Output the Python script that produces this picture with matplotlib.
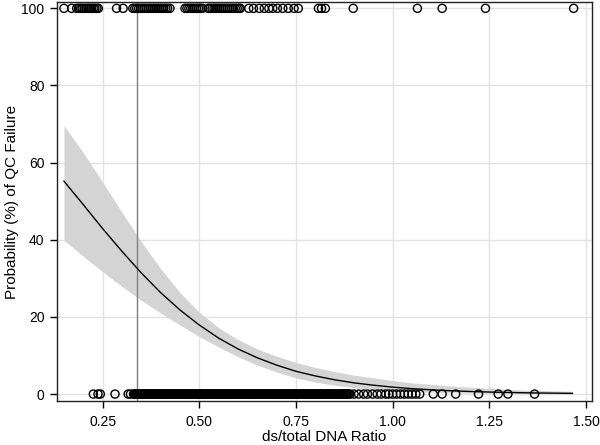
import numpy as np
import matplotlib.pyplot as plt

plt.rcParams['font.family'] = ['Liberation Sans', 'DejaVu Sans']

# fitted curve and 95% band (probability, %)
curve_x = [0.15, 0.20, 0.25, 0.30, 0.35, 0.40, 0.45, 0.50, 0.55, 0.60,
           0.65, 0.70, 0.75, 0.80, 0.85, 0.90, 0.95, 1.00, 1.05, 1.10,
           1.15, 1.20, 1.25, 1.30, 1.35, 1.40, 1.465]
curve_p = [55.2, 49.1, 42.9, 37.0, 31.4, 26.3, 21.8, 17.9, 14.5, 11.7,
           9.4, 7.5, 5.9, 4.7, 3.7, 2.9, 2.3, 1.8, 1.4, 1.1,
           0.86, 0.67, 0.52, 0.41, 0.32, 0.25, 0.18]
band_hi = [69.6, 62.6, 54.9, 47.1, 39.5, 32.5, 26.3, 21.2, 17.2, 14.1,
           11.7, 9.8, 8.2, 6.9, 5.8, 4.9, 4.2, 3.5, 2.9, 2.5,
           2.1, 1.8, 1.5, 1.2, 1.0, 0.88, 0.72]
band_lo = [39.9, 35.7, 31.7, 27.9, 24.3, 21.0, 17.9, 14.9, 12.2, 9.7,
           7.5, 5.7, 4.2, 3.1, 2.3, 1.7, 1.2, 0.9, 0.66, 0.48,
           0.35, 0.25, 0.19, 0.13, 0.10, 0.07, 0.05]

# observed samples: QC failures (plotted at 100) and passes (plotted at 0)
fail_x = [0.150, 0.170,
          0.183, 0.188, 0.193, 0.197, 0.202, 0.207, 0.212, 0.216, 0.221,
          0.226, 0.230, 0.235, 0.239,
          0.286, 0.303,
          0.328, 0.333, 0.338, 0.343, 0.348, 0.353, 0.358, 0.363, 0.368,
          0.373, 0.378, 0.383, 0.388, 0.393, 0.398, 0.403, 0.408, 0.413,
          0.418, 0.424,
          0.463, 0.468, 0.473, 0.478, 0.483, 0.488, 0.493, 0.498, 0.503,
          0.508, 0.523, 0.528, 0.533, 0.538, 0.543, 0.548, 0.553, 0.558,
          0.563, 0.568, 0.573, 0.578, 0.583, 0.588, 0.593, 0.598, 0.603,
          0.606,
          0.628, 0.640, 0.655, 0.668, 0.680, 0.690, 0.702, 0.716, 0.730,
          0.745, 0.756, 0.808, 0.816, 0.826, 0.898, 1.064, 1.128, 1.240,
          1.468]
pass_x = [0.226, 0.238, 0.244, 0.282, 0.316, 0.322,
          0.3300, 0.3325, 0.3350, 0.3375, 0.3400, 0.3425, 0.3450, 0.3475,
          0.3500, 0.3525, 0.3550, 0.3575, 0.3600, 0.3625, 0.3650, 0.3675,
          0.3700, 0.3725, 0.3750, 0.3775, 0.3800, 0.3825, 0.3850, 0.3875,
          0.3900, 0.3925, 0.3950, 0.3975, 0.4000, 0.4025, 0.4050, 0.4075,
          0.4100, 0.4125, 0.4150, 0.4175, 0.4200, 0.4225, 0.4250, 0.4275,
          0.4300, 0.4325, 0.4350, 0.4375, 0.4400, 0.4425, 0.4450, 0.4475,
          0.4500, 0.4525, 0.4550, 0.4575, 0.4600, 0.4625, 0.4650, 0.4675,
          0.4700, 0.4725, 0.4750, 0.4775, 0.4800, 0.4825, 0.4850, 0.4875,
          0.4900, 0.4925, 0.4950, 0.4975, 0.5000, 0.5025, 0.5050, 0.5075,
          0.5100, 0.5125, 0.5150, 0.5175, 0.5200, 0.5225, 0.5250, 0.5275,
          0.5300, 0.5325, 0.5350, 0.5375, 0.5400, 0.5425, 0.5450, 0.5475,
          0.5500, 0.5525, 0.5550, 0.5575, 0.5600, 0.5625, 0.5650, 0.5675,
          0.5700, 0.5725, 0.5750, 0.5775, 0.5800, 0.5825, 0.5850, 0.5875,
          0.5900, 0.5925, 0.5950, 0.5975, 0.6000, 0.6025, 0.6050, 0.6075,
          0.6100, 0.6125, 0.6150, 0.6175, 0.6200, 0.6225, 0.6250, 0.6275,
          0.6300, 0.6325, 0.6350, 0.6375, 0.6400, 0.6425, 0.6450, 0.6475,
          0.6500, 0.6525, 0.6550, 0.6575, 0.6600, 0.6625, 0.6650, 0.6675,
          0.6700, 0.6725, 0.6750, 0.6775, 0.6800, 0.6825, 0.6850, 0.6875,
          0.6900, 0.6925, 0.6950, 0.6975, 0.7000, 0.7025, 0.7050, 0.7075,
          0.7100, 0.7125, 0.7150, 0.7175, 0.7200, 0.7225, 0.7250, 0.7275,
          0.7300, 0.7325, 0.7350, 0.7375, 0.7400, 0.7425, 0.7450, 0.7475,
          0.7500, 0.7525, 0.7550, 0.7575, 0.7600, 0.7625, 0.7650, 0.7675,
          0.7700, 0.7725, 0.7750, 0.7775, 0.7800, 0.7825, 0.7850, 0.7875,
          0.7900, 0.7925, 0.7950, 0.7975, 0.8000, 0.8025, 0.8050, 0.8075,
          0.8100, 0.8125, 0.8150, 0.8175, 0.8200, 0.8225, 0.8250, 0.8275,
          0.8300, 0.8325, 0.8350, 0.8375, 0.8400, 0.8425, 0.8450, 0.8475,
          0.8500, 0.8525, 0.8550, 0.8575, 0.8600, 0.8625, 0.8650, 0.8675,
          0.8700, 0.8725, 0.8750, 0.8775, 0.8800, 0.8825, 0.8850, 0.8875,
          0.8900,
          0.900, 0.912, 0.925, 0.935, 0.948, 0.960, 0.970, 0.982, 0.990,
          1.000, 1.010, 1.020, 1.030, 1.040, 1.050, 1.060, 1.070, 1.105,
          1.128, 1.163, 1.222, 1.273, 1.298, 1.367]

cutoff = 0.338
x_ticks = [0.25, 0.50, 0.75, 1.00, 1.25, 1.50]
y_ticks = [0, 20, 40, 60, 80, 100]

fig = plt.figure(figsize=(6, 4.45), dpi=100)
ax = fig.add_axes([0.095, 0.098, 0.892, 0.898])

ax.fill_between(curve_x, band_lo, band_hi, color='#d4d4d4', lw=0, zorder=1)
ax.plot(curve_x, curve_p, color='black', lw=1, zorder=3)
ax.axvline(cutoff, color='#7f7f7f', lw=1, zorder=2)

ax.scatter(fail_x, [100] * len(fail_x), s=34, facecolors='none',
           edgecolors='black', linewidths=1.0, zorder=4)
ax.scatter(pass_x, [0] * len(pass_x), s=34, facecolors='none',
           edgecolors='black', linewidths=1.0, zorder=4)

ax.set_xlim(0.132, 1.516)
ax.set_ylim(-1.9, 101.7)
ax.set_xticks(x_ticks)
ax.set_xticklabels(['%.2f' % t for t in x_ticks])
ax.set_yticks(y_ticks)
ax.grid(True, color='#e3e3e3', lw=1, zorder=0)
ax.set_axisbelow(True)
ax.tick_params(direction='out', length=5, width=1, labelsize=10,
               color='black', pad=4)
ax.tick_params(axis='x', pad=5)
for s in ax.spines.values():
    s.set_color('#222222')
    s.set_linewidth(1)

ax.set_xlabel('ds/total DNA Ratio', fontsize=11, va='center')
ax.xaxis.set_label_coords(0.5, -0.09)
ax.set_ylabel('Probability (%) of QC Failure', fontsize=11, va='center')
ax.yaxis.set_label_coords(-0.084, 0.5)

fig.savefig('out.png', dpi=100)
